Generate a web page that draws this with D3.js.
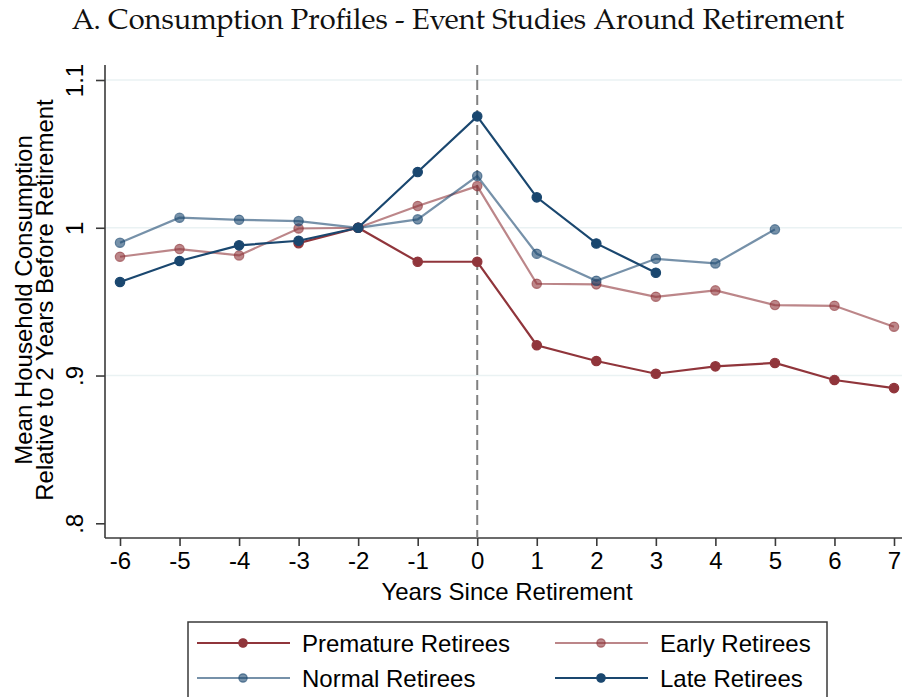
<!DOCTYPE html>
<html>
<head>
<meta charset="utf-8">
<script src="https://cdn.jsdelivr.net/npm/d3@7"></script>
<style>
  body { margin: 0; background: #fff; }
  text { font-family: "Liberation Sans", Arial, sans-serif; }
</style>
</head>
<body>
<svg id="chart" width="902" height="697"></svg>
<script>
// years since retirement
const years = [-6, -5, -4, -3, -2, -1, 0, 1, 2, 3, 4, 5, 6, 7];

// series values (null = not observed)
const premature = [null, null, null, 0.9896, 1.0, 0.977, 0.977, 0.9205, 0.9098, 0.9012, 0.9062, 0.9085, 0.897, 0.8915];
const early = [0.9804, 0.9856, 0.9813, 0.9995, 1.0, 1.0147, 1.0282, 0.9621, 0.9617, 0.9533, 0.9576, 0.9477, 0.9472, 0.933];
const normal = [0.9899, 1.0068, 1.0054, 1.0045, 1.0, 1.0057, 1.035, 0.9824, 0.9641, 0.979, 0.9759, 0.9989, null, null];
const late = [0.9633, 0.9775, 0.9881, 0.9912, 1.0, 1.0377, 1.0754, 1.0206, 0.9894, 0.9696, null, null, null, null];

const yTicks = [0.8, 0.9, 1.0, 1.1];
const yTickLabels = [".8", ".9", "1", "1.1"];
const gridTicks = [0.9, 1.0, 1.1];

const series = [
  { name: "Premature Retirees", values: premature, color: "#90353b", opacity: 1 },
  { name: "Early Retirees", values: early, color: "#90353b", opacity: 0.6 },
  { name: "Normal Retirees", values: normal, color: "#1a476f", opacity: 0.6 },
  { name: "Late Retirees", values: late, color: "#1a476f", opacity: 1 }
];
// draw order: light ones first
const drawOrder = [1, 2, 0, 3];

const svg = d3.select("#chart");

const x = d3.scaleLinear().domain([-6, 7]).range([120, 894]);
const y = d3.scaleLinear().domain([0.8, 1.1]).range([523.3, 80]);

// title
svg.append("text")
  .attr("x", 458).attr("y", 29)
  .attr("text-anchor", "middle")
  .style("font-family", "'TeX Gyre Pagella','Palatino Linotype','Book Antiqua','DejaVu Serif',serif")
  .style("font-size", "29px")
  .attr("fill", "#111")
  .text("A. Consumption Profiles - Event Studies Around Retirement");

// grid
svg.append("g").selectAll("line").data(gridTicks).join("line")
  .attr("x1", 106).attr("x2", 902)
  .attr("y1", d => y(d)).attr("y2", d => y(d))
  .attr("stroke", "#eaf2f3").attr("stroke-width", 1.5);

// axes
const yAxis = d3.axisLeft(y).tickValues(yTicks)
  .tickFormat((d, i) => yTickLabels[i]).tickSize(9).tickPadding(6);
const gy = svg.append("g").attr("transform", "translate(105,0)").call(yAxis);
gy.select(".domain").attr("d", "M0,65V538");
gy.selectAll("line, .domain").attr("stroke", "#3a3a3a").attr("stroke-width", 1.6);
gy.selectAll("text")
  .attr("transform", "translate(-22,0) rotate(-90)")
  .attr("x", 0).attr("y", 0).attr("dy", "0")
  .attr("text-anchor", "middle")
  .style("font-size", "24px").attr("fill", "#000");

const xAxis = d3.axisBottom(x).tickValues(years)
  .tickFormat(d => String(d)).tickSize(8).tickPadding(6);
const gx = svg.append("g").attr("transform", "translate(0,538)").call(xAxis);
gx.select(".domain").attr("d", "M105,0H902");
gx.selectAll("line, .domain").attr("stroke", "#3a3a3a").attr("stroke-width", 1.6);
gx.selectAll("text").style("font-size", "24px").attr("fill", "#000");

// axis titles
svg.append("text")
  .attr("x", 507).attr("y", 600).attr("text-anchor", "middle")
  .style("font-size", "24px").text("Years Since Retirement");
const yt = svg.append("text").attr("transform", "translate(0,300) rotate(-90)")
  .attr("text-anchor", "middle").style("font-size", "24px");
yt.append("tspan").attr("x", 0).attr("y", 32).text("Mean Household Consumption");
yt.append("tspan").attr("x", 0).attr("y", 53).text("Relative to 2 Years Before Retirement");

// reference line at retirement
svg.append("line")
  .attr("x1", x(0)).attr("x2", x(0)).attr("y1", 65).attr("y2", 538)
  .attr("stroke", "#808080").attr("stroke-width", 2)
  .attr("stroke-dasharray", "10,5");

// series
const line = d3.line()
  .defined(d => d.v != null)
  .x(d => x(d.t)).y(d => y(d.v));

drawOrder.forEach(i => {
  const s = series[i];
  const pts = years.map((t, j) => ({ t, v: s.values[j] }));
  const g = svg.append("g");
  g.append("path").datum(pts).attr("d", line)
    .attr("fill", "none").attr("stroke", s.color)
    .attr("stroke-width", 2.2).attr("stroke-opacity", s.opacity);
  g.selectAll("circle").data(pts.filter(d => d.v != null)).join("circle")
    .attr("cx", d => x(d.t)).attr("cy", d => y(d.v)).attr("r", 4.7)
    .attr("fill", s.color).attr("fill-opacity", s.opacity)
    .attr("stroke", s.color).attr("stroke-opacity", s.opacity).attr("stroke-width", 1.2);
});

// legend
const lg = svg.append("g");
lg.append("rect").attr("x", 188).attr("y", 622).attr("width", 639).attr("height", 90)
  .attr("fill", "#fff").attr("stroke", "#3a3a3a").attr("stroke-width", 1.5);
const legendPos = [[197, 643], [555, 643], [197, 678], [555, 678]];
series.forEach((s, i) => {
  const [lx, ly] = legendPos[i];
  lg.append("line").attr("x1", lx).attr("x2", lx + 93).attr("y1", ly).attr("y2", ly)
    .attr("stroke", s.color).attr("stroke-width", 2.2).attr("stroke-opacity", s.opacity);
  lg.append("circle").attr("cx", lx + 46).attr("cy", ly).attr("r", 4.2)
    .attr("fill", s.color).attr("fill-opacity", s.opacity)
    .attr("stroke", s.color).attr("stroke-opacity", s.opacity).attr("stroke-width", 1.2);
  lg.append("text").attr("x", lx + 105).attr("y", ly + 8.5)
    .style("font-size", "24px").attr("fill", "#000").text(s.name);
});
</script>
</body>
</html>
